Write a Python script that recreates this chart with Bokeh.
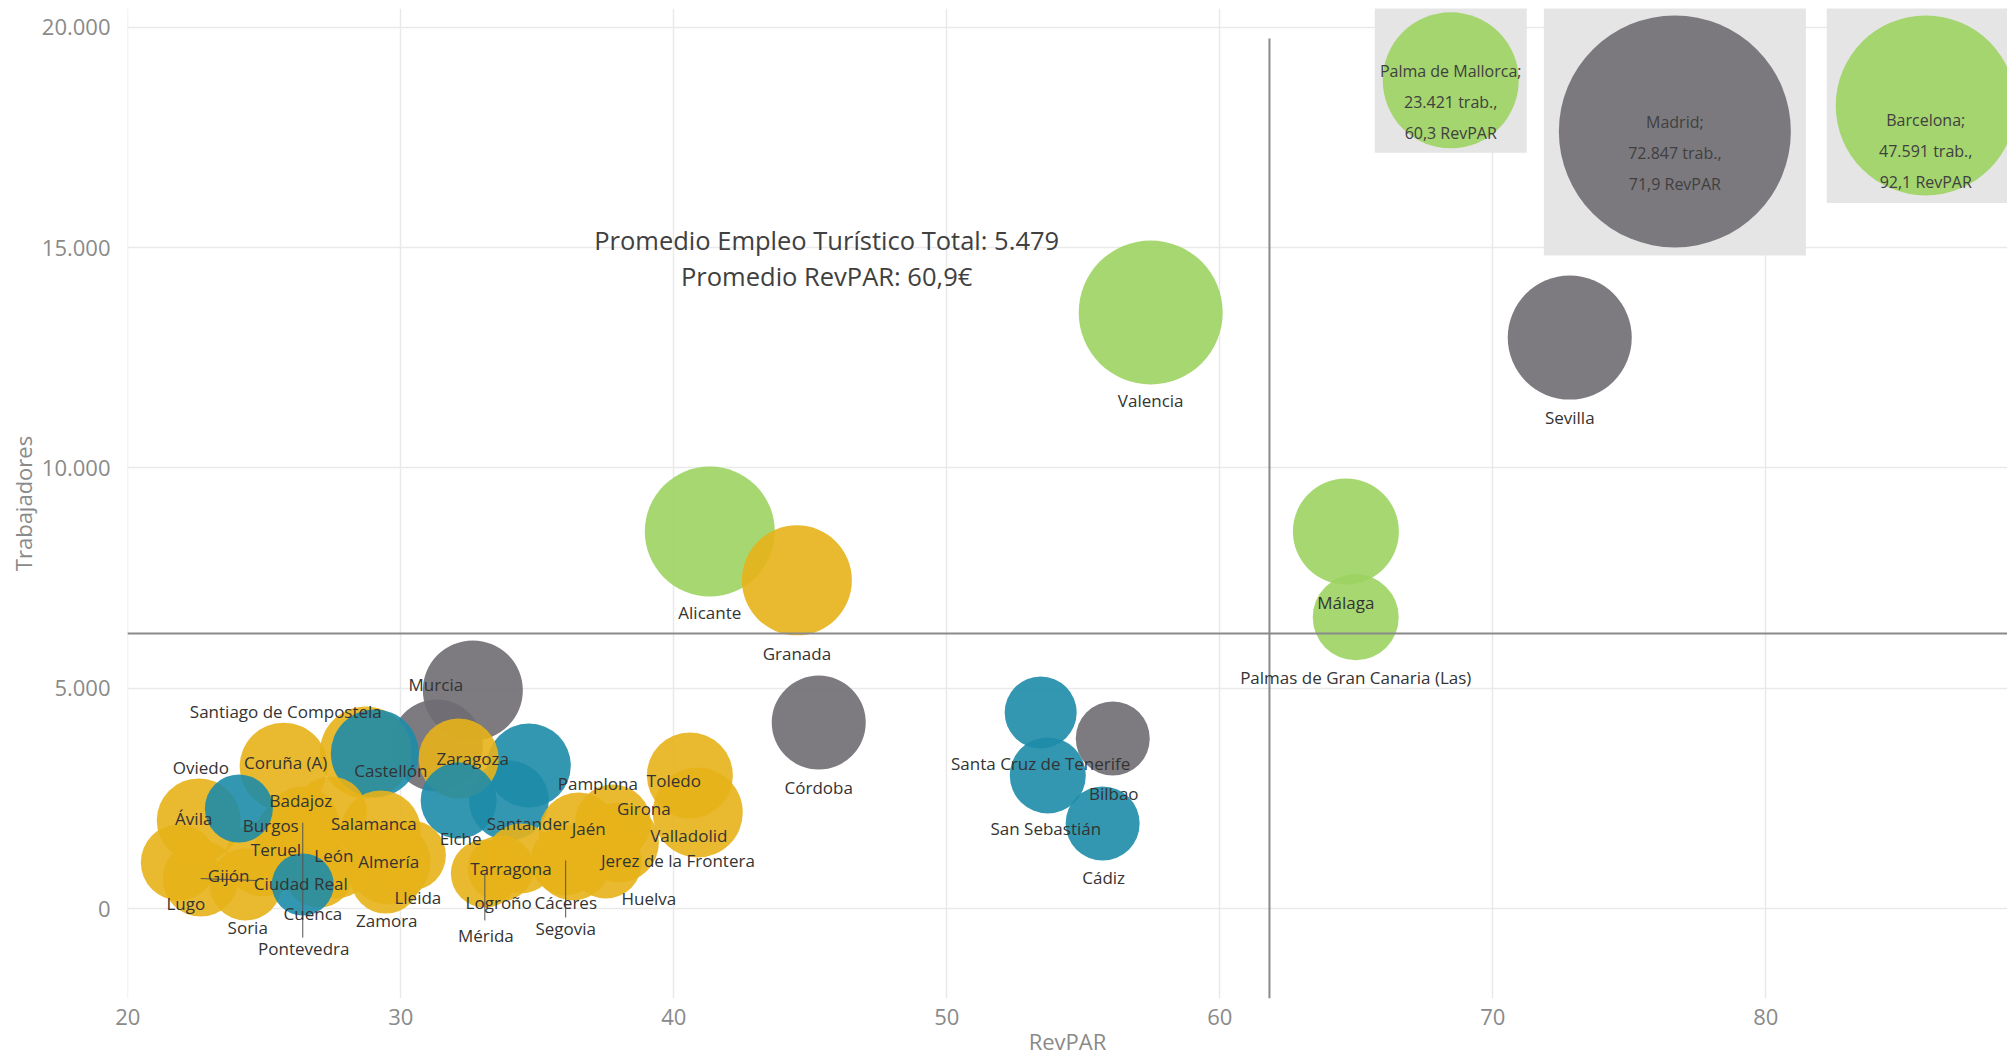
from bokeh.plotting import figure
from bokeh.models import ColumnDataSource, FixedTicker, Span, Range1d
from bokeh.embed import file_html
from bokeh.resources import INLINE
from bokeh.core.properties import value

FUENTE = "Open Sans"

# ---------------- datos ----------------
ciudades = [
    "Valencia", "Sevilla", "Alicante", "Granada", "Málaga",
    "Palmas de Gran Canaria (Las)", "Córdoba", "Santa Cruz de Tenerife", "Bilbao",
    "San Sebastián", "Cádiz", "Murcia", "", "Santiago de Compostela", "Coruña (A)",
    "Castellón", "Oviedo", "Ávila", "Badajoz", "Burgos", "Salamanca", "Teruel",
    "León", "Almería", "Gijón", "Ciudad Real", "Lugo", "Cuenca", "Soria", "Zamora",
    "Lleida", "Pontevedra", "Elche", "Pamplona", "Santander", "Zaragoza",
    "Tarragona", "Mérida", "Logroño", "Cáceres", "Segovia", "Jaén", "Huelva",
    "Jerez de la Frontera", "Girona", "Toledo", "Valladolid",
]
revpar = [
    57.47, 72.82, 41.32, 44.51, 64.62,
    64.98, 45.31, 53.44, 56.08,
    53.70, 55.71, 32.64, 31.32, 28.72, 25.71,
    29.05, 24.07, 22.60, 27.44, 25.97, 29.27, 24.95,
    27.62, 29.56, 22.67, 26.41, 21.87, 27.00, 24.32, 29.45,
    30.37, 26.41, 32.12, 34.69, 33.96, 32.12,
    34.40, 33.08, 33.66, 36.30, 36.04, 36.52, 37.51,
    37.99, 37.77, 40.59, 40.88,
]
trabajadores = [
    13530, 12960, 8560, 7450, 8560,
    6610, 4220, 4450, 3860,
    3020, 1930, 4950, 3700, 3540, 3220,
    3520, 2270, 2000, 2180, 1660, 1770, 1135,
    1090, 1045, 680, 545, 1045, 815, 545, 680,
    1205, 1950, 2450, 3245, 2450, 3405,
    1135, 795, 910, 1045, 1090, 1725, 1045,
    1500, 1950, 3020, 2180,
]
tamano_burbuja = [
    144, 124, 130, 110, 106,
    86, 94, 72, 74,
    76, 74, 100, 92, 92, 88,
    88, 68, 84, 72, 72, 80, 76,
    76, 84, 76, 62, 76, 70, 72, 70,
    70, 72, 76, 84, 80, 80,
    70, 68, 66, 76, 70, 80, 72,
    80, 76, 86, 90,
]
grupo = [
    "verde", "gris", "verde", "ambar", "verde",
    "verde", "gris", "azul", "gris",
    "azul", "azul", "gris", "gris", "ambar", "ambar",
    "azul", "azul", "ambar", "ambar", "ambar", "ambar", "ambar",
    "ambar", "ambar", "ambar", "azul", "ambar", "ambar", "ambar", "ambar",
    "ambar", "ambar", "azul", "azul", "azul", "ambar",
    "ambar", "ambar", "ambar", "ambar", "ambar", "ambar", "ambar",
    "ambar", "ambar", "ambar", "ambar",
]

# destinos destacados (fuera de escala, en recuadros arriba)
dest_ciudades = ["Palma de Mallorca", "Madrid", "Barcelona"]
dest_trabajadores = [23421, 72847, 47591]
dest_revpar = [60.3, 71.9, 92.1]
dest_grupo = ["verde", "gris", "verde"]
dest_tamano = [136, 232, 180]
dest_pos_revpar = [68.46, 76.67, 85.86]
dest_pos_trab = [18800, 17640, 18230]

promedio_revpar_linea = 61.82
promedio_trab_linea = 6243
anotacion = ["Promedio Empleo Turístico Total: 5.479", "Promedio RevPAR: 60,9€"]

x_ticks = [20, 30, 40, 50, 60, 70, 80]
y_ticks = [0, 5000, 10000, 15000, 20000]
y_tick_labels = ["0", "5.000", "10.000", "15.000", "20.000"]
titulo_x = "RevPAR"
titulo_y = "Trabajadores"

# ---------------- estilo / maquetación ----------------
COLORES = {"verde": "#9cd360", "gris": "#6f6d72", "azul": "#1d8ca8", "ambar": "#e7b21a"}

# desplazamiento de cada etiqueta respecto a su burbuja (px)
etq_dx = [0, 0, 0, 0, 0, 0, 0, 0, 1, -2, 1, -37, 0, -80, 2, 16, -38, -5, -30, -20, -7, 13,
          -2, 0, 28, -2, 7, -6, 2, 1, 7, 1, 2, 69, 19, 14, -10, 1, -2, -7, 0, 10, 43, 59, 31, -16, -9]
etq_dy = [88, 80, 81, 73, 71, 60, 65, 51, 55, 53, 54, -6, 0, -41, -4, 17, -41, -2, -12, -10, -7, -9,
          -5, -1, -3, -1, 41, 41, 43, 42, 42, 126, 38, 18, 23, 0, 10, 62, 34, 40, 68, -4, 36, 18, -14, 5, 23]
# líneas guía (ciudad, dx, dy en px desde la burbuja)
guias = [("Pontevedra", 0, 115), ("Mérida", 0, 47), ("Segovia", 0, 57), ("Gijón", 57, 2)]
dest_recuadro = [(152, 145), (262, 248), (198, 195)]
dest_texto_dy = [22, 22, 46]

W, H = 2007, 1060
ML, MT, MB = 127, 8, 62
FW, FH = W - ML, H - MT - MB
x0 = 19.99
PXX = 27.3
x_range = Range1d(x0, x0 + FW / PXX)
y_range = Range1d(-2043, 20431)
PXY = FH / (y_range.end - y_range.start)

p = figure(width=W, height=H, x_range=x_range, y_range=y_range,
           output_backend="svg", toolbar_location=None,
           min_border_left=ML, min_border_right=0, min_border_top=MT, min_border_bottom=MB,
           x_axis_label=titulo_x, y_axis_label=titulo_y)
p.outline_line_color = None
p.background_fill_color = "white"
p.border_fill_color = "white"

p.xaxis.ticker = FixedTicker(ticks=x_ticks)
p.yaxis.ticker = FixedTicker(ticks=y_ticks)
p.xgrid.ticker = FixedTicker(ticks=x_ticks)
p.ygrid.ticker = FixedTicker(ticks=y_ticks)
p.yaxis.major_label_overrides = {t: l for t, l in zip(y_ticks, y_tick_labels)}
p.grid.grid_line_color = "#e9e9e9"
p.grid.grid_line_width = 1.5

GRIS_EJE = "#8a8a8a"
for ax in p.axis:
    ax.axis_line_color = None
    ax.major_tick_line_color = None
    ax.minor_tick_line_color = None
    ax.major_tick_out = 0
    ax.major_tick_in = 0
    ax.major_label_text_font = FUENTE
    ax.major_label_text_font_size = "22px"
    ax.major_label_text_color = GRIS_EJE
    ax.axis_label_text_font = FUENTE
    ax.axis_label_text_font_size = "22px"
    ax.axis_label_text_color = GRIS_EJE
    ax.axis_label_text_font_style = "normal"
p.yaxis.major_label_standoff = 17
p.yaxis.axis_label_standoff = 1
p.xaxis.major_label_standoff = 10
p.xaxis.axis_label_standoff = -2

# líneas de promedio
p.add_layout(Span(location=promedio_trab_linea, dimension="width",
                  line_color="#8a8a8a", line_width=2))
p.segment(x0=[promedio_revpar_linea], y0=[19750], x1=[promedio_revpar_linea], y1=[y_range.start],
          line_color="#8a8a8a", line_width=2)

# recuadros de destacados
p.rect(x=dest_pos_revpar, y=dest_pos_trab,
       width=[b[0] for b in dest_recuadro], height=[b[1] for b in dest_recuadro],
       width_units="screen", height_units="screen",
       fill_color="#e5e5e5", line_color=None)

# burbujas (grandes primero)
todas = []
for i in range(len(ciudades)):
    todas.append((tamano_burbuja[i], revpar[i], trabajadores[i], COLORES[grupo[i]]))
for i in range(len(dest_ciudades)):
    todas.append((dest_tamano[i], dest_pos_revpar[i], dest_pos_trab[i], COLORES[dest_grupo[i]]))
todas.sort(key=lambda t: -t[0])
src_b = ColumnDataSource(dict(
    x=[t[1] for t in todas], y=[t[2] for t in todas],
    s=[t[0] for t in todas], c=[t[3] for t in todas]))
p.scatter(x="x", y="y", size="s", fill_color="c", fill_alpha=0.9, line_color=None, source=src_b)

# líneas guía
gx0, gy0, gx1, gy1 = [], [], [], []
for nombre, dx, dy in guias:
    i = ciudades.index(nombre)
    gx0.append(revpar[i]); gy0.append(trabajadores[i])
    gx1.append(revpar[i] + dx / PXX); gy1.append(trabajadores[i] - dy / PXY)
p.segment(x0=gx0, y0=gy0, x1=gx1, y1=gy1, line_color="#555555", line_width=1)

# etiquetas
src_t = ColumnDataSource(dict(x=revpar, y=trabajadores, t=ciudades, dx=etq_dx, dy=etq_dy))
p.text(x="x", y="y", text="t", x_offset="dx", y_offset="dy", source=src_t,
       text_font=value(FUENTE), text_font_size="17px", text_color="#333333",
       text_align="center", text_baseline="middle")

# textos de destacados
def miles(v):
    return f"{v:,}".replace(",", ".")

tx, ty, tt, tdy = [], [], [], []
for i, nombre in enumerate(dest_ciudades):
    lineas = [f"{nombre};", f"{miles(dest_trabajadores[i])} trab.,",
              f"{dest_revpar[i]:.1f}".replace(".", ",") + " RevPAR"]
    for k, l in enumerate(lineas):
        tx.append(dest_pos_revpar[i]); ty.append(dest_pos_trab[i])
        tt.append(l); tdy.append(dest_texto_dy[i] + (k - 1) * 31)
p.text(x=tx, y=ty, text=tt, y_offset=tdy, text_font=value(FUENTE), text_font_size="16px",
       text_color="#404040", text_align="center", text_baseline="middle")

# anotación de promedios
p.text(x=[45.6, 45.6], y=[15186, 14369], text=anotacion,
       text_font=value(FUENTE), text_font_size="25.5px", text_color="#404040",
       text_align="center", text_baseline="middle")

open("out.html", "w").write(file_html(p, INLINE))
